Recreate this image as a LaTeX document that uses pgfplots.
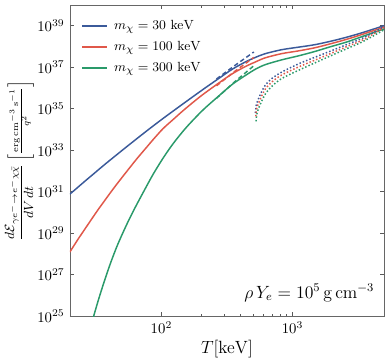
\documentclass[border=0pt]{standalone}
\usepackage{pgfplots}
\pgfplotsset{compat=1.18}
\definecolor{cblue}{HTML}{3B5A9A}
\definecolor{cred}{HTML}{E0584A}
\definecolor{cgreen}{HTML}{2A9A6A}
\begin{document}
\begin{tikzpicture}
\begin{axis}[
  name=ax,
  scale only axis,
  width=213pt, height=211pt,
  xmode=log, ymode=log,
  xmin=20, xmax=5000, ymin=1e25, ymax=1e40,
  xtick={100,1000},
  ytick={1e25,1e27,1e29,1e31,1e33,1e35,1e37,1e39},
  yminorticks=false,
  tick align=inside,
  major tick length=3pt, minor tick length=1.8pt,
  every tick/.style={black!65},
  axis line style={black!60},
  xlabel={$T[\mathrm{keV}]$},
  ylabel={$\displaystyle\frac{d\mathcal{E}_{\gamma e^-\to e^-\chi\bar{\chi}}}{dV\,dt}\left[{\textstyle\frac{\mathrm{erg\,cm^{-3}\,s^{-1}}}{q^2}}\right]$},
  xlabel style={font=\large, yshift=2pt},
  ylabel style={font=\small, at={(axis description cs:-0.16,0.5)}, anchor=center},
  legend style={at={(0.022,0.97)}, anchor=north west, draw=none, fill=none, font=\fontsize{9.5pt}{11pt}\selectfont, row sep=2.5pt, nodes={inner xsep=4pt}},
  legend cell align=left,
  every axis plot/.append style={line width=1pt},
]
\addplot[cblue, smooth] coordinates {(20,7.59e30)(23,1.62e31)(26,3.16e31)(30,6.76e31)(36.6,1.95e32)(46,6.31e32)(58,2.04e33)(78,8.91e33)(103,3.39e34)(146,1.70e35)(207,8.32e35)(276,2.95e36)(347,7.94e36)(437,1.78e37)(521,2.95e37)(620,4.47e37)(826,6.92e37)(1104,9.12e37)(1472,1.20e38)(1963,1.78e38)(2618,2.82e38)(3491,4.79e38)(5000,1.0e39)};
\addlegendentry{$m_\chi = 30\ \mathrm{keV}$}
\addplot[cred, smooth] coordinates {(20,1.23e28)(23,4.90e28)(26,1.55e29)(30,5.89e29)(33,1.41e30)(36.6,3.47e30)(41,9.33e30)(46,2.45e31)(52,6.61e31)(58,1.58e32)(65,3.89e32)(78,1.51e33)(87,3.39e33)(103,1.10e34)(123,3.02e34)(146,7.94e34)(174,2.0e35)(207,4.79e35)(276,1.78e36)(347,4.79e36)(437,1.07e37)(521,1.78e37)(620,2.82e37)(826,4.47e37)(1104,6.03e37)(1472,8.51e37)(1963,1.35e38)(2618,2.24e38)(3491,3.98e38)(5000,8.51e38)};
\addlegendentry{$m_\chi = 100\ \mathrm{keV}$}
\addplot[cgreen, smooth] coordinates {(29.5,5.01e24)(30.4,1e25)(33,5.89e25)(36.6,4.68e26)(41,3.80e27)(46,2.51e28)(52,1.45e29)(58,6.17e29)(65,2.51e30)(78,2.14e31)(87,7.41e31)(103,4.17e32)(123,2.09e33)(155,1.26e34)(207,8.51e34)(276,4.27e35)(347,1.48e36)(437,3.98e36)(521,7.94e36)(620,1.32e37)(826,2.24e37)(1104,3.47e37)(1472,5.62e37)(1963,9.77e37)(2618,1.66e38)(3491,3.16e38)(5000,6.92e38)};
\addlegendentry{$m_\chi = 300\ \mathrm{keV}$}
% dashed low-T extrapolations
\addplot[cblue, dash pattern=on 3pt off 2pt, forget plot] coordinates {(263,2.69e36)(363,1.20e37)(507,5.37e37)};
\addplot[cred, dash pattern=on 3pt off 2pt, forget plot] coordinates {(263,1.26e36)(363,6.31e36)(507,2.95e37)};
\addplot[cgreen, dash pattern=on 3pt off 2pt, forget plot] coordinates {(263,3.16e35)(363,2.0e36)(507,1.17e37)};
% dotted high-T curves
\addplot[cblue, dash pattern=on 1pt off 1.4pt, forget plot, smooth] coordinates {(521,6.17e34)(530,1.58e35)(552,3.16e35)(585,7.08e35)(620,1.35e36)(695,2.82e36)(826,5.75e36)(1104,1.41e37)(1472,2.95e37)(1963,6.03e37)(2618,1.26e38)(3491,2.63e38)(5000,9.12e38)};
\addplot[cred, dash pattern=on 1pt off 1.4pt, forget plot, smooth] coordinates {(525,4.27e34)(533,1e35)(556,2.14e35)(589,4.79e35)(624,9.33e35)(700,2.0e36)(826,4.17e36)(1104,1e37)(1472,2.14e37)(1963,4.57e37)(2618,1e38)(3491,2.14e38)(5000,7.94e38)};
\addplot[cgreen, dash pattern=on 1pt off 1.4pt, forget plot, smooth] coordinates {(527,2.45e34)(537,6.31e34)(562,1.41e35)(596,3.16e35)(631,6.03e35)(708,1.32e36)(826,2.82e36)(1104,6.92e36)(1472,1.58e37)(1963,3.55e37)(2618,7.94e37)(3491,1.78e38)(5000,6.31e38)};
\node[anchor=south east, font=\large] at (rel axis cs:0.985,0.03) {$\rho\,Y_e = 10^5\,\mathrm{g\,cm^{-3}}$};
\end{axis}
\path (ax.south west) ++(-47pt,0pt);
\path (ax.north east) ++(3.3pt,3.3pt);
\end{tikzpicture}
\end{document}
